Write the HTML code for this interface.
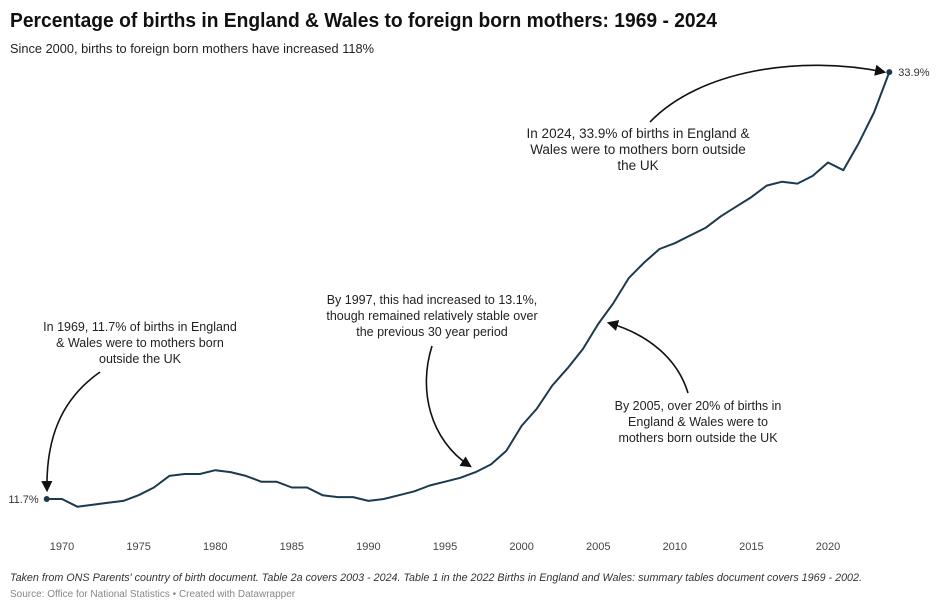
<!DOCTYPE html>
<html><head><meta charset="utf-8"><style>
html,body{margin:0;padding:0;background:#fff;}
svg{display:block;font-family:"Liberation Sans",sans-serif;}
</style></head><body>
<svg width="940" height="608" viewBox="0 0 940 608">
<defs><marker id="ah" viewBox="0 0 10 10" refX="8" refY="5" markerWidth="7" markerHeight="7" orient="auto-start-reverse"><path d="M0,0L10,5L0,10z" fill="#111"/></marker></defs>
<text x="10" y="27" font-size="20.5" font-weight="bold" fill="#111" textLength="707" lengthAdjust="spacingAndGlyphs">Percentage of births in England &amp; Wales to foreign born mothers: 1969 - 2024</text>
<text x="10" y="53" font-size="13" fill="#222" textLength="364" lengthAdjust="spacingAndGlyphs">Since 2000, births to foreign born mothers have increased 118%</text>
<g id="xaxis"></g>
<path id="line" fill="none" stroke="#1b3a4f" stroke-width="2" stroke-linejoin="round"/>
<g id="pts"></g>
<g font-size="12.5" fill="#222" text-anchor="middle">
<text x="140" y="331"><tspan x="140">In 1969, 11.7% of births in England</tspan><tspan x="140" dy="16">&amp; Wales were to mothers born</tspan><tspan x="140" dy="16">outside the UK</tspan></text>
<text x="432" y="304"><tspan x="432">By 1997, this had increased to 13.1%,</tspan><tspan x="432" dy="16">though remained relatively stable over</tspan><tspan x="432" dy="16">the previous 30 year period</tspan></text>
<text x="698" y="410"><tspan x="698">By 2005, over 20% of births in</tspan><tspan x="698" dy="16">England &amp; Wales were to</tspan><tspan x="698" dy="16">mothers born outside the UK</tspan></text>
<text x="638" y="138" font-size="13.5"><tspan x="638">In 2024, 33.9% of births in England &amp;</tspan><tspan x="638" dy="16">Wales were to mothers born outside</tspan><tspan x="638" dy="16">the UK</tspan></text>
</g>
<g fill="none" stroke="#111" stroke-width="1.6">
<path d="M100,372 C60,400 46,440 47,490" marker-end="url(#ah)"/>
<path d="M432,346 C418,390 430,440 470,466" marker-end="url(#ah)"/>
<path d="M688,393 C678,360 650,335 609,323" marker-end="url(#ah)"/>
<path d="M650,122 C700,70 800,55 884,72" marker-end="url(#ah)"/>
</g>
<text x="10" y="581" font-size="11" font-style="italic" fill="#333" textLength="852" lengthAdjust="spacingAndGlyphs">Taken from ONS Parents' country of birth document. Table 2a covers 2003 - 2024. Table 1 in the 2022 Births in England and Wales: summary tables document covers 1969 - 2002.</text>
<text x="10" y="597" font-size="10" fill="#888">Source: Office for National Statistics • Created with Datawrapper</text>
</svg>
<script>
const years=[1969,1970,1971,1972,1973,1974,1975,1976,1977,1978,1979,1980,1981,1982,1983,1984,1985,1986,1987,1988,1989,1990,1991,1992,1993,1994,1995,1996,1997,1998,1999,2000,2001,2002,2003,2004,2005,2006,2007,2008,2009,2010,2011,2012,2013,2014,2015,2016,2017,2018,2019,2020,2021,2022,2023,2024];
const values=[11.7,11.7,11.3,11.4,11.5,11.6,11.9,12.3,12.9,13.0,13.0,13.2,13.1,12.9,12.6,12.6,12.3,12.3,11.9,11.8,11.8,11.6,11.7,11.9,12.1,12.4,12.6,12.8,13.1,13.5,14.2,15.5,16.4,17.6,18.5,19.5,20.8,21.9,23.2,24.0,24.7,25.0,25.4,25.8,26.4,26.9,27.4,28.0,28.2,28.1,28.5,29.2,28.8,30.2,31.8,33.9];
const tickYears=[1970,1975,1980,1985,1990,1995,2000,2005,2010,2015,2020];
const NS="http://www.w3.org/2000/svg";
function xs(y){return 46.7+(y-1969)*15.32;}
function ys(v){return 499-(v-11.7)*19.23;}
const ax=document.getElementById('xaxis');
tickYears.forEach(t=>{
  const tx=document.createElementNS(NS,'text');
  tx.setAttribute('x',xs(t));tx.setAttribute('y',550);
  tx.setAttribute('font-size','11');tx.setAttribute('fill','#444');tx.setAttribute('text-anchor','middle');
  
  
  tx.textContent=t;ax.appendChild(tx);
});
document.getElementById('line').setAttribute('d',years.map((y,i)=>(i?'L':'M')+xs(y).toFixed(1)+','+ys(values[i]).toFixed(1)).join(''));
const pts=document.getElementById('pts');
[0,years.length-1].forEach((i,k)=>{
  const c=document.createElementNS(NS,'circle');
  c.setAttribute('cx',xs(years[i]));c.setAttribute('cy',ys(values[i]));c.setAttribute('r',3);c.setAttribute('fill','#1b3a4f');
  
  
  pts.appendChild(c);
  const t=document.createElementNS(NS,'text');
  t.setAttribute('y',ys(values[i])+4);t.setAttribute('font-size','11');t.setAttribute('fill','#333');
  if(k){t.setAttribute('x',xs(years[i])+9);}else{t.setAttribute('x',xs(years[i])-8);t.setAttribute('text-anchor','end');}
  
  
  t.textContent=values[i]+'%';pts.appendChild(t);
});
</script>
</body></html>
